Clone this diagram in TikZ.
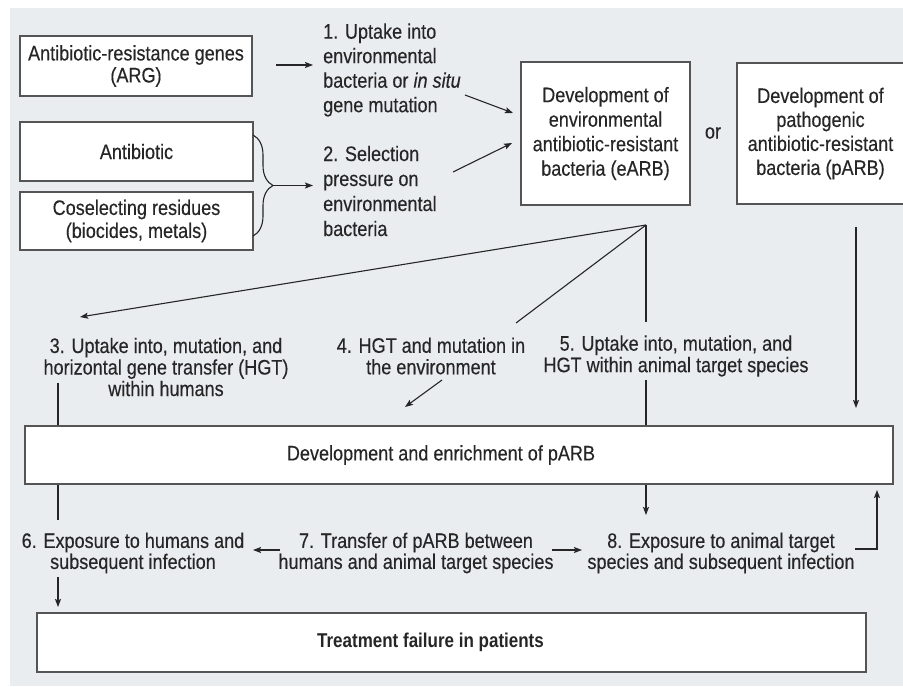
\documentclass[tikz,border=0pt]{standalone}
\usepackage{fontspec}
\setmainfont{Liberation Sans}[FakeStretch=0.86,FakeBold=0.3]
\newfontfamily\condbold{Liberation Sans}[FakeStretch=0.85]
\usetikzlibrary{arrows.meta,decorations.pathreplacing}
\definecolor{bg}{HTML}{E9EDF0}
\definecolor{ink}{HTML}{262626}
\definecolor{edge}{HTML}{555555}
\begin{document}
\begin{tikzpicture}[x=1pt,y=-1pt,
  every node/.style={font=\fontsize{21}{22}\selectfont},
  box/.style={draw=edge,line width=1.4pt,fill=white,inner sep=0pt,align=center,text=ink},
  lbl/.style={align=center,text=ink,inner sep=0pt},
  conn/.style={draw=ink,line width=1.1pt},
  arr/.style={conn,-{Stealth[length=8pt,width=6pt,inset=1.5pt]}}
]
\useasboundingbox (0,0) rectangle (903,686);
\fill[white] (0,0) rectangle (903,686);
\fill[bg] (10,8) rectangle (903,686);

% top-left boxes
\node[box,minimum width=232pt,minimum height=60pt] (arg) at (136,66) {Antibiotic-resistance genes\\(ARG)};
\node[box,minimum width=233pt,minimum height=59pt] (ab) at (136.5,151.5) {Antibiotic};
\node[box,minimum width=233pt,minimum height=58pt,font=\fontsize{21}{23}\selectfont] (cos) at (136.5,221) {Coselecting residues\\(biocides, metals)};

% labels 1 and 2
\node[lbl,anchor=west,align=left,font=\fontsize{21}{24.5}\selectfont] (l1) at (323,70) {1. Uptake into\\environmental\\bacteria or \textit{in situ}\\gene mutation};
\node[lbl,anchor=west,align=left,font=\fontsize{21}{25}\selectfont] (l2) at (323,191) {2. Selection\\pressure on\\environmental\\bacteria};

% eARB / pARB
\node[box,minimum width=169pt,minimum height=143pt,font=\fontsize{21}{24.5}\selectfont] (earb) at (605.5,133.5) {Development of\\environmental\\antibiotic-resistant\\bacteria (eARB)};
\node[lbl] (or) at (713,133) {or};
\node[box,minimum width=167pt,minimum height=141pt,font=\fontsize{21}{24}\selectfont] (parb) at (820.5,133.5) {Development of\\pathogenic\\antibiotic-resistant\\bacteria (pARB)};

% middle labels
\node[lbl,font=\fontsize{21}{21.5}\selectfont] (l3) at (166,367) {3. Uptake into, mutation, and\\horizontal gene transfer (HGT)\\within humans};
\node[lbl,font=\fontsize{21}{21.5}\selectfont] (l4) at (431,356) {4. HGT and mutation in\\the environment};
\node[lbl,font=\fontsize{21}{21.5}\selectfont] (l5) at (676,356) {5. Uptake into, mutation, and\\HGT within animal target species};

% development box
\node[box,minimum width=868pt,minimum height=58pt] (dev) at (459,455) {\hspace*{-36pt}Development and enrichment of pARB};

% bottom labels
\node[lbl,font=\fontsize{21}{21}\selectfont] (l6) at (133,553) {6. Exposure to humans and\\subsequent infection};
\node[lbl,font=\fontsize{21}{21}\selectfont] (l7) at (416,553) {7. Transfer of pARB between\\humans and animal target species};
\node[lbl,font=\fontsize{21}{21}\selectfont] (l8) at (721,553) {8. Exposure to animal target\\species and subsequent infection};

% treatment failure
\node[box,minimum width=829pt,minimum height=59pt,font=\condbold\fontsize{20}{22}\selectfont\bfseries] (tf) at (451.5,642.5) {\hspace*{-42pt}Treatment failure in patients};

% connector points
\coordinate (c1a) at (276,65);  \coordinate (c1b) at (313,65);
\coordinate (bt) at (253,135);  \coordinate (bb) at (253,236);
\coordinate (tip) at (273,185.5); \coordinate (c2b) at (313,185.5);
\coordinate (d1a) at (465,95);  \coordinate (d1b) at (513,113);
\coordinate (d2a) at (453,172); \coordinate (d2b) at (512,143);
\coordinate (apex) at (646,225);
\coordinate (t3) at (80,317);
\coordinate (t4) at (516,323);
\coordinate (t5) at (646,322);
\coordinate (p4a) at (442,380); \coordinate (p4b) at (405,407);
\coordinate (pa) at (856,227);  \coordinate (pb) at (856,408);
\coordinate (s3) at (58,383);
\coordinate (s5) at (646,380);
\coordinate (s6) at (58,520);
\coordinate (s6b) at (58,577);  \coordinate (s6e) at (58,607);
\coordinate (s8) at (646,515);
\coordinate (s7l) at (280,550); \coordinate (s7le) at (253,550);
\coordinate (s7r) at (552,550); \coordinate (s7re) at (582,550);
\coordinate (s8a) at (855,549); \coordinate (s8b) at (877,490);

% connectors
\draw[arr] (c1a) -- (c1b);
\draw[conn,decorate,decoration={brace,amplitude=20pt}] (bt) -- (bb);
\draw[arr] (tip) -- (c2b);
\draw[arr] (d1a) -- (d1b);
\draw[arr] (d2a) -- (d2b);
\draw[arr] (apex) -- (t3);
\draw[conn] (apex) -- (t4);
\draw[conn] (apex) -- (t5);
\draw[arr] (p4a) -- (p4b);
\draw[arr] (pa) -- (pb);
\draw[conn] (s3) -- (s3 |- dev.north);
\draw[conn] (s5) -- (s5 |- dev.north);
\draw[conn] (s6 |- dev.south) -- (s6);
\draw[arr] (s6b) -- (s6e);
\draw[arr] (s8 |- dev.south) -- (s8);
\draw[arr] (s7l) -- (s7le);
\draw[arr] (s7r) -- (s7re);
\draw[arr] (s8a) -| (s8b);
\end{tikzpicture}
\end{document}
